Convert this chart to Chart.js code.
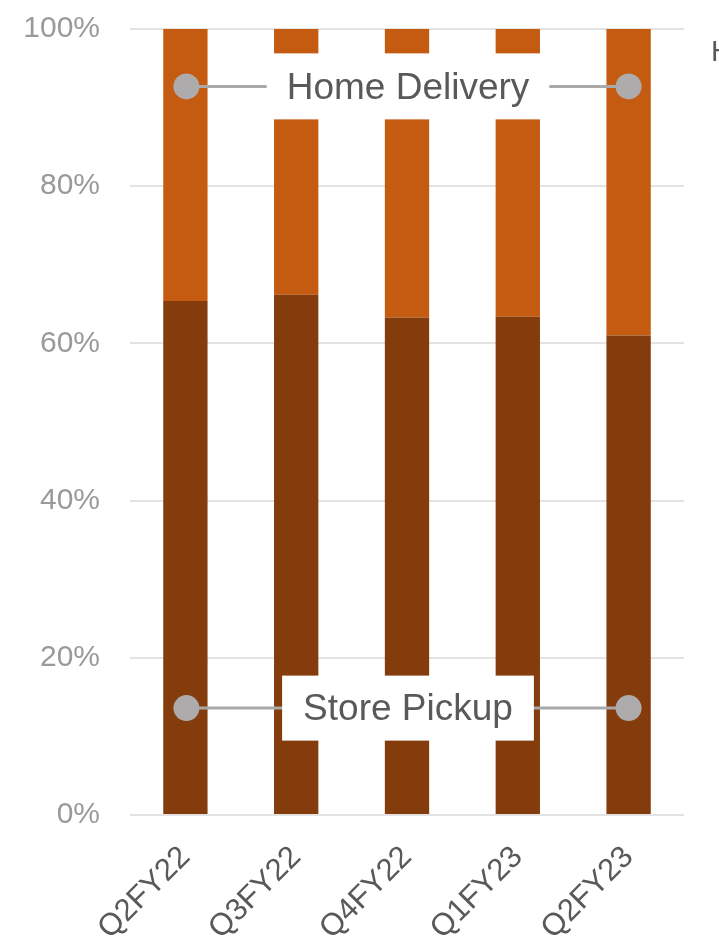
<!DOCTYPE html>
<html lang="en">
<head>
    <meta charset="UTF-8">
    <title>Store Pickup vs Home Delivery</title>
    <script src="https://cdn.jsdelivr.net/npm/chart.js"></script>
    <style>
        html, body {
            margin: 0;
            padding: 0;
            background-color: #ffffff;
            overflow: hidden;
        }
        #chart-container {
            position: relative;
            width: 719px;
            height: 945px;
        }
    </style>
</head>
<body>
    <div id="chart-container">
        <canvas id="myChart" width="719" height="945"></canvas>
    </div>

    <script>
        const quarters = ['Q2FY22', 'Q3FY22', 'Q4FY22', 'Q1FY23', 'Q2FY23'];
        const storePickup = [65.4, 66.2, 63.3, 63.4, 61.0];
        const homeDelivery = [34.6, 33.8, 36.7, 36.6, 39.0];
        const yTicks = [0, 20, 40, 60, 80, 100];

        const FONT = '"Liberation Sans", Arial, sans-serif';

        // series name callouts: a dot on the first and last bar joined by a line, name in a white box
        const seriesCallouts = {
            id: 'seriesCallouts',
            afterDatasetsDraw(chart) {
                const ctx = chart.ctx;
                const x = chart.scales.x;
                const y = chart.scales.y;
                const items = [
                    { text: 'Home Delivery', value: 92.7, padX: 20, boxH: 66 },
                    { text: 'Store Pickup', value: 13.6, padX: 21, boxH: 65 }
                ];
                ctx.save();
                ctx.font = '37px ' + FONT;
                items.forEach(item => {
                    const x0 = x.getPixelForValue(0) + 1;
                    const x1 = x.getPixelForValue(quarters.length - 1);
                    const mid = x.getPixelForValue((quarters.length - 1) / 2) + 1;
                    const py = y.getPixelForValue(item.value);

                    ctx.strokeStyle = '#a9a9a9';
                    ctx.lineWidth = 3;
                    ctx.beginPath();
                    ctx.moveTo(x0, py);
                    ctx.lineTo(x1, py);
                    ctx.stroke();

                    const w = ctx.measureText(item.text).width + item.padX * 2;
                    ctx.fillStyle = '#ffffff';
                    ctx.fillRect(mid - w / 2, py - item.boxH / 2, w, item.boxH);

                    ctx.fillStyle = '#595959';
                    ctx.textAlign = 'center';
                    ctx.textBaseline = 'middle';
                    ctx.fillText(item.text, mid, py + 2);

                    ctx.fillStyle = '#adabab';
                    [x0, x1].forEach(cx => {
                        ctx.beginPath();
                        ctx.arc(cx, py, 13, 0, Math.PI * 2);
                        ctx.fill();
                    });
                });

                // legend entry that runs off the right edge
                ctx.fillStyle = '#595959';
                ctx.font = '29px ' + FONT;
                ctx.textAlign = 'left';
                ctx.textBaseline = 'middle';
                ctx.fillText('Home Delivery', 711, 53);
                ctx.restore();
            }
        };

        const ctx = document.getElementById('myChart').getContext('2d');
        const myChart = new Chart(ctx, {
            type: 'bar',
            data: {
                labels: quarters,
                datasets: [
                    {
                        label: 'Store Pickup',
                        data: storePickup,
                        backgroundColor: '#843c0c',
                        borderWidth: 0
                    },
                    {
                        label: 'Home Delivery',
                        data: homeDelivery,
                        backgroundColor: '#c55a11',
                        borderWidth: 0
                    }
                ]
            },
            options: {
                responsive: false,
                animation: false,
                layout: {
                    padding: { top: 29, right: 35, left: 0, bottom: 0 }
                },
                plugins: {
                    legend: { display: false },
                    tooltip: { enabled: false }
                },
                datasets: {
                    bar: { barPercentage: 0.4, categoryPercentage: 1.0 }
                },
                scales: {
                    x: {
                        stacked: true,
                        grid: { display: false },
                        border: { display: false },
                        ticks: {
                            color: '#595959',
                            font: { family: FONT, size: 31 },
                            minRotation: 45,
                            maxRotation: 45,
                            padding: 16
                        },
                        afterFit(scale) { scale.height = 130; }
                    },
                    y: {
                        stacked: true,
                        min: 0,
                        max: 100,
                        afterBuildTicks(scale) {
                            scale.ticks = yTicks.map(v => ({ value: v }));
                        },
                        grid: { color: '#e3e3e3', lineWidth: 2, drawTicks: false },
                        border: { display: false },
                        ticks: {
                            color: '#9a9a9a',
                            font: { family: FONT, size: 30 },
                            padding: 30,
                            callback: v => v + '%'
                        },
                        afterFit(scale) {
                            scale.width = 130;
                            scale.paddingTop = 0;
                            scale.paddingBottom = 0;
                        }
                    }
                }
            },
            plugins: [seriesCallouts]
        });
    </script>
</body>
</html>
